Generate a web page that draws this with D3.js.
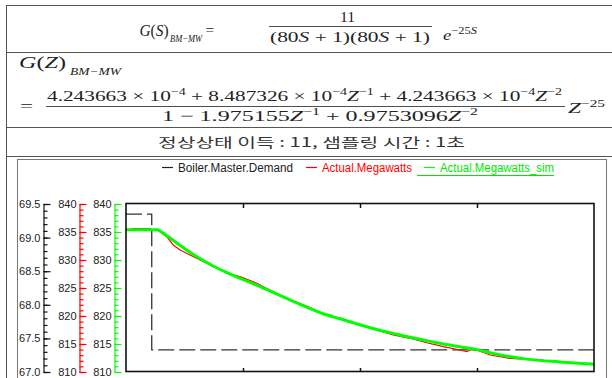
<!DOCTYPE html>
<html>
<head>
<meta charset="utf-8">
<script src="https://cdn.jsdelivr.net/npm/d3@7"></script>
<style>
  body { margin: 0; background: #fff; }
  svg { display: block; }
  text { white-space: pre; }
</style>
</head>
<body>
<script>
// ---- chart values ----
const timeTicks = [500, 1000, 1500];            // x grid ticks (s), no labels shown
const demandTicks = [67.0, 67.5, 68.0, 68.5, 69.0, 69.5];
const mwTicks = [810, 815, 820, 825, 830, 835, 840];

const demandTime = [0, 110, 2000];
const demandValue = [69.35, 67.33, 67.33];

const actualTime = [0, 24, 26, 103, 105, 134, 145, 174, 202, 231, 259, 302, 345, 388, 416, 459, 487,
  559, 629, 701, 772, 843, 915, 1029, 1071, 1142, 1214, 1285, 1356, 1427, 1456, 1470, 1499, 1556, 1641, 1784];
const actualMW = [835.45, 835.45, 835.6, 835.6, 835.36, 835.36, 835.05, 834.16, 832.68, 831.79, 831.2, 830.3,
  829.41, 828.52, 828.09, 827.32, 827.02, 825.84, 824.34, 822.86, 821.79, 820.36, 819.46, 818.09, 817.5,
  816.61, 816.02, 815.23, 814.52, 813.93, 813.63, 813.93, 813.93, 813.04, 812.45, 812.14];

const simTime = [0, 134, 159, 202, 259, 330, 402, 473, 559, 629, 701, 772, 843, 915, 986, 1071, 1142,
  1214, 1285, 1356, 1427, 1499, 1570, 1712, 1855, 2000];
const simMW = [835.4, 835.4, 834.8, 833.5, 831.8, 829.9, 828.3, 827.0, 825.5, 824.2, 822.9, 821.6, 820.4,
  819.5, 818.6, 817.6, 816.9, 816.2, 815.6, 815.0, 814.5, 814.0, 813.3, 812.3, 811.8, 811.4];

const legendNames = ['Boiler.Master.Demand', 'Actual.Megawatts', 'Actual.Megawatts_sim'];
const legendColors = ['#222', '#ff0000', '#00ff00'];

const svg = d3.select('body').append('svg')
  .attr('width', 612)
  .attr('height', 378);

// ---- table frame ----
const frame = svg.append('g').attr('stroke', '#555').attr('stroke-width', 1);
[5, 52, 127, 156].forEach(y => {
  frame.append('line').attr('x1', 6).attr('x2', 612).attr('y1', y + 0.5).attr('y2', y + 0.5);
});
frame.append('line').attr('x1', 6.5).attr('x2', 6.5).attr('y1', 5).attr('y2', 378);
svg.append('rect')
  .attr('x', 17.5).attr('y', 159.5).attr('width', 589).attr('height', 230)
  .attr('fill', 'none').attr('stroke', '#777');

// ---- formulas ----
const serif = '"Liberation Serif", "DejaVu Serif", serif';

// parts: [text, flags]  i = italic, ^ = superscript, _ = subscript
function mathText(x, y, parts, width, size) {
  size = size || 15;
  const t = svg.append('text')
    .attr('x', x).attr('y', y)
    .attr('font-family', serif)
    .attr('font-size', size)
    .attr('fill', '#222');
  let shift = 0;
  parts.forEach(([s, f]) => {
    f = f || '';
    const want = f.includes('^') ? -Math.round(size * 0.42) : f.includes('_') ? Math.round(size * 0.3) : 0;
    t.append('tspan')
      .attr('dy', want - shift)
      .attr('font-style', f.includes('i') ? 'italic' : 'normal')
      .attr('font-size', (f.includes('^') || f.includes('_')) ? size * 0.66 : size)
      .text(s);
    shift = want;
  });
  if (width) t.attr('textLength', width).attr('lengthAdjust', 'spacingAndGlyphs');
  return t;
}

// row 1
mathText(139.5, 36, [['G', 'i'], ['('], ['S', 'i'], [')']], 29, 17);
mathText(170, 42, [['BM−MW', 'i']], 32, 10);
mathText(205.5, 35, [['=']], 8.5, 15);
mathText(340, 22, [['11']], 15);
svg.append('line').attr('x1', 269).attr('x2', 432).attr('y1', 26.5).attr('y2', 26.5)
  .attr('stroke', '#222').attr('stroke-width', 0.8);
mathText(270, 42, [['(80'], ['S', 'i'], [' + 1)(80'], ['S', 'i'], [' + 1)']], 160);
mathText(443, 40, [['e', 'i'], ['−25', '^'], ['S', 'i^']], 34);

// row 2
mathText(19, 68, [['G', 'i'], ['('], ['Z', 'i'], [')']], 47, 17);
mathText(70, 75, [['BM−MW', 'i']], 51, 10);
mathText(20, 111, [['=']], 13);
mathText(47, 101, [['4.243663 × 10'], ['−4', '^'], [' + 8.487326 × 10'], ['−4', '^'], ['Z', 'i'], ['−1', '^'],
  [' + 4.243663 × 10'], ['−4', '^'], ['Z', 'i'], ['−2', '^']], 515);
svg.append('line').attr('x1', 46).attr('x2', 565).attr('y1', 106.5).attr('y2', 106.5)
  .attr('stroke', '#222').attr('stroke-width', 0.8);
mathText(162, 121, [['1 − 1.975155'], ['Z', 'i'], ['−1', '^'], [' + 0.9753096'], ['Z', 'i'], ['−2', '^']], 316);
mathText(568, 113, [['Z', 'i'], ['−25', '^']], 37);

// row 3
svg.append('text')
  .attr('x', 158).attr('y', 147)
  .attr('font-family', '"Noto Sans CJK KR", sans-serif')
  .attr('font-size', 13)
  .attr('fill', '#333')
  .attr('textLength', 307).attr('lengthAdjust', 'spacingAndGlyphs')
  .text('정상상태 이득 : 11, 샘플링 시간 : 1초');

// ---- chart ----
const plot = { left: 126, right: 594, top: 204, bottom: 372 };
const sans = '"Liberation Sans", Arial, sans-serif';

const x = d3.scaleLinear().domain([0, 2000]).range([plot.left, plot.right]);
const yDemand = d3.scaleLinear().domain([67, 69.5]).range([plot.bottom, plot.top]);
const yMW = d3.scaleLinear().domain([810, 840]).range([plot.bottom, plot.top]);

function yAxis(xPos, scale, majors, minors, color, fmt) {
  const g = svg.append('g').attr('transform', `translate(${xPos},0)`);
  g.append('g')
    .call(d3.axisLeft(scale).tickValues(minors).tickSizeInner(-4).tickSizeOuter(0).tickFormat(''))
    .call(s => s.select('.domain').remove());
  g.append('g')
    .call(d3.axisLeft(scale).tickValues(majors).tickSizeInner(-7).tickSizeOuter(0).tickPadding(3).tickFormat(fmt));
  g.selectAll('line, path').attr('stroke', color).attr('stroke-width', 1.2);
  g.selectAll('text')
    .attr('font-family', sans)
    .attr('font-size', 11)
    .attr('fill', '#222');
}

const demandMinor = d3.range(670, 696, 1).map(d => d / 10);
const mwMinor = d3.range(810, 841, 1);
yAxis(43.5, yDemand, demandTicks, demandMinor, '#111', d3.format('.1f'));
yAxis(79.5, yMW, mwTicks, mwMinor, '#ff0000', d3.format('d'));
yAxis(114.5, yMW, mwTicks, mwMinor, '#00ff00', d3.format('d'));

// x ticks on top and bottom, pointing inward
const xTop = svg.append('g').attr('transform', `translate(0,${plot.top})`)
  .call(d3.axisTop(x).tickValues(timeTicks).tickSizeInner(-4).tickSizeOuter(0).tickFormat(''));
const xBottom = svg.append('g').attr('transform', `translate(0,${plot.bottom})`)
  .call(d3.axisBottom(x).tickValues(timeTicks).tickSizeInner(-4).tickSizeOuter(0).tickFormat(''));
[xTop, xBottom].forEach(g => {
  g.select('.domain').remove();
  g.selectAll('line').attr('stroke', '#111').attr('stroke-width', 1.5);
});

svg.append('clipPath').attr('id', 'plotclip').append('rect')
  .attr('x', plot.left).attr('y', plot.top)
  .attr('width', plot.right - plot.left).attr('height', plot.bottom - plot.top);

const lines = svg.append('g').attr('clip-path', 'url(#plotclip)');

const demandLine = d3.line()
  .x((d, i) => x(demandTime[i]))
  .y(d => yDemand(d))
  .curve(d3.curveStepAfter);
lines.append('path')
  .attr('d', demandLine(demandValue))
  .attr('fill', 'none')
  .attr('stroke', '#333')
  .attr('stroke-width', 1.3)
  .attr('stroke-dasharray', '16,5');

const actualLine = d3.line().x((d, i) => x(actualTime[i])).y(d => yMW(d));
lines.append('path')
  .attr('d', actualLine(actualMW))
  .attr('fill', 'none')
  .attr('stroke', '#ff0000')
  .attr('stroke-width', 1.2);

const simLine = d3.line().x((d, i) => x(simTime[i])).y(d => yMW(d)).curve(d3.curveMonotoneX);
lines.append('path')
  .attr('d', simLine(simMW))
  .attr('fill', 'none')
  .attr('stroke', '#00ff00')
  .attr('stroke-width', 3);

svg.append('rect')
  .attr('x', plot.left).attr('y', plot.top - 0.5)
  .attr('width', plot.right - plot.left).attr('height', plot.bottom - plot.top)
  .attr('fill', 'none')
  .attr('stroke', '#111')
  .attr('stroke-width', 1.6);

// ---- legend ----
const legendX = [162, 306, 424];
const legendW = [115, 90, 114];
const legend = svg.append('g').attr('font-family', sans).attr('font-size', 12);
legendNames.forEach((name, i) => {
  legend.append('line')
    .attr('x1', legendX[i]).attr('x2', legendX[i] + 11)
    .attr('y1', 167.5).attr('y2', 167.5)
    .attr('stroke', legendColors[i]).attr('stroke-width', 1.2);
  legend.append('text')
    .attr('x', legendX[i] + 16).attr('y', 172)
    .attr('fill', legendColors[i] === '#00ff00' ? '#00e600' : legendColors[i])
    .attr('textLength', legendW[i]).attr('lengthAdjust', 'spacingAndGlyphs')
    .text(name);
});
legend.append('line')
  .attr('x1', 417).attr('x2', 554).attr('y1', 175.5).attr('y2', 175.5)
  .attr('stroke', '#00e600');
</script>
</body>
</html>
